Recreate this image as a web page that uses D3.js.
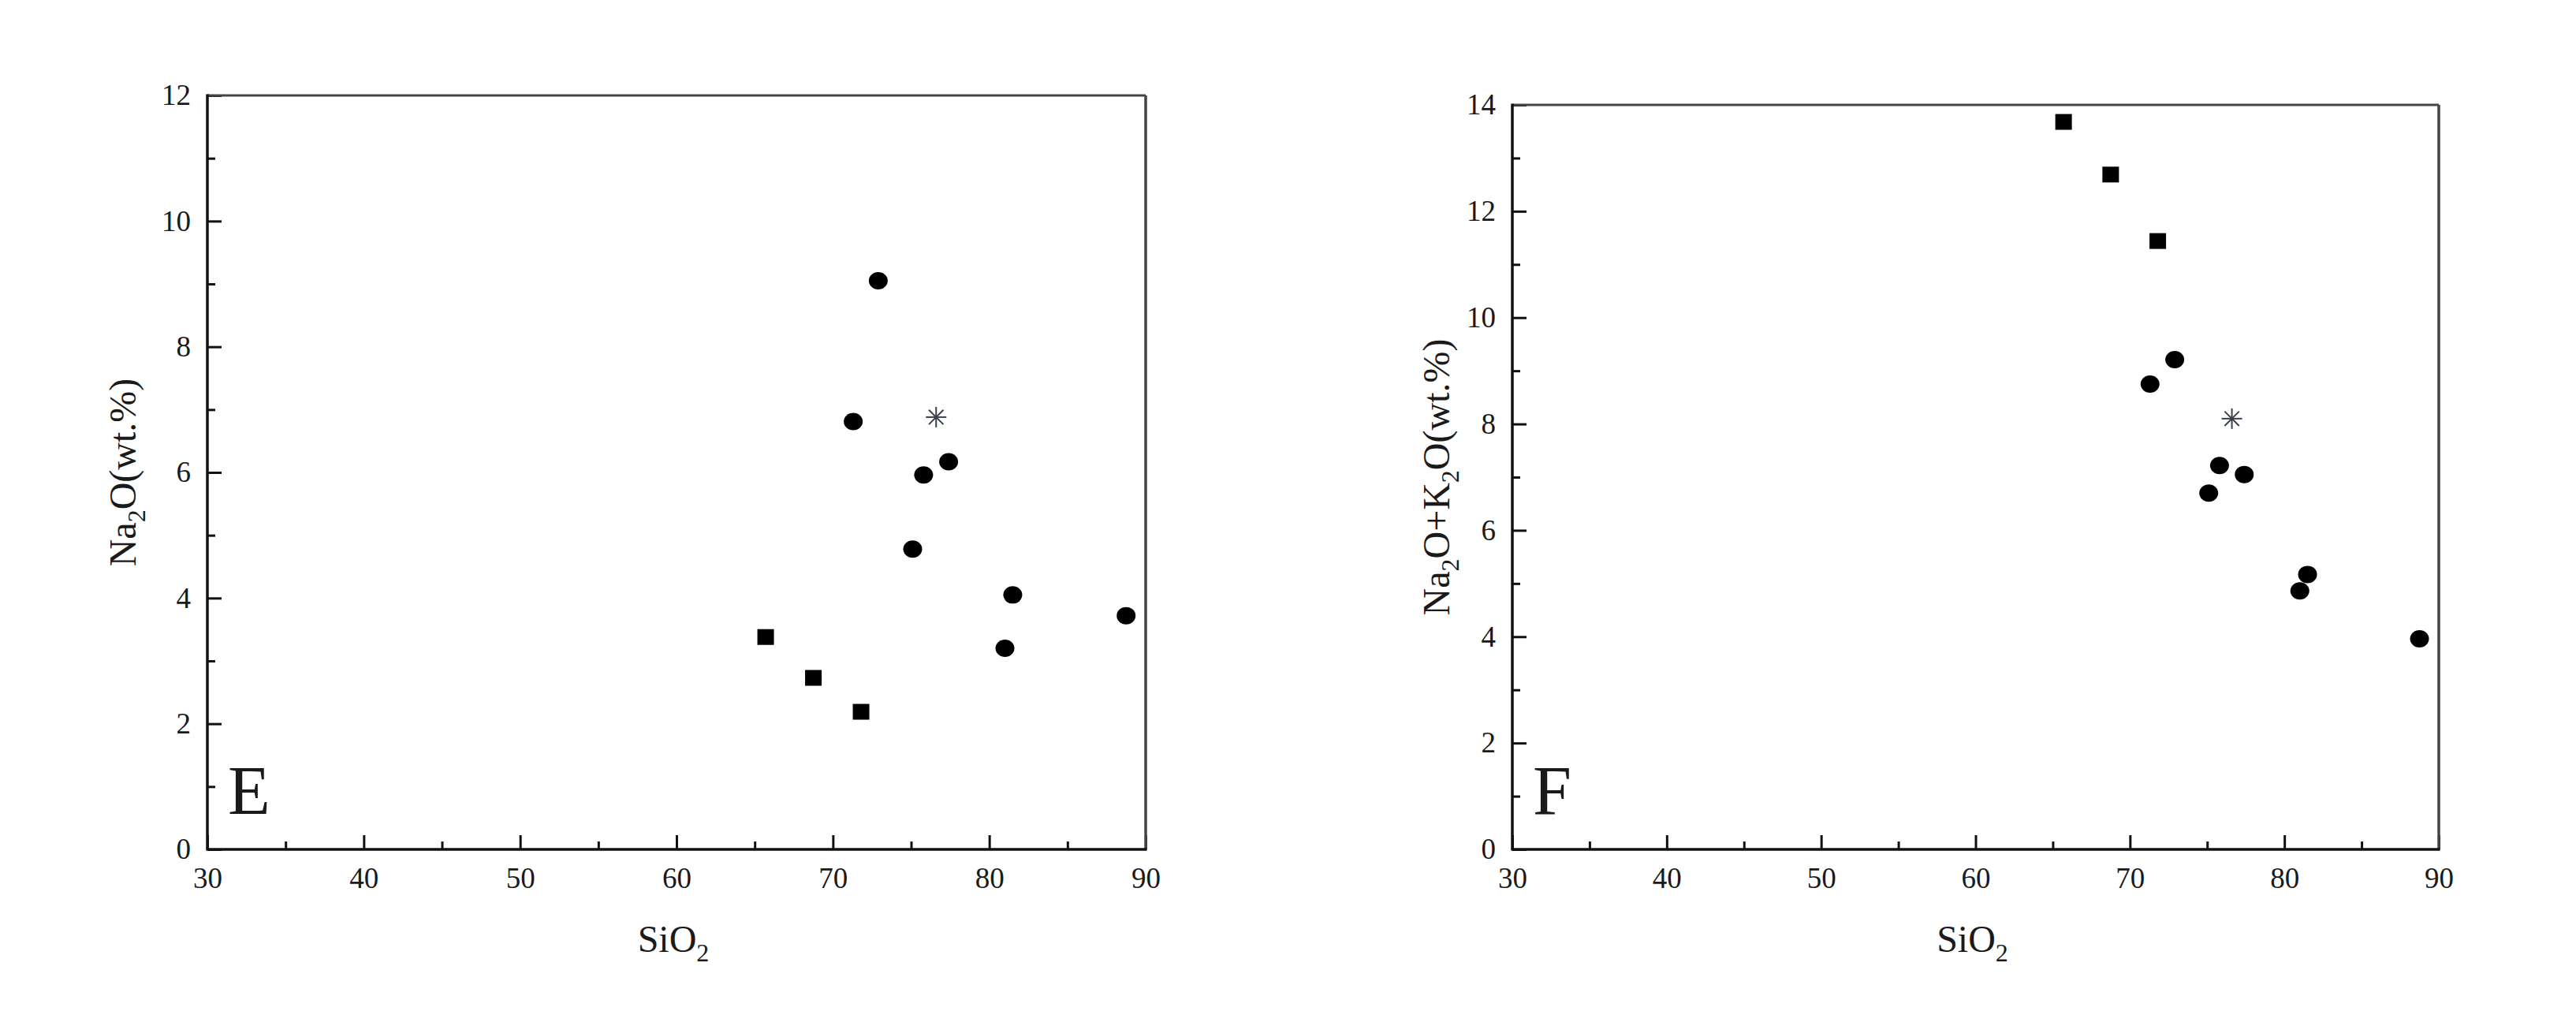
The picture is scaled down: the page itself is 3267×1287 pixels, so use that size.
<html>
<script src='https://d3js.org/d3.v7.min.js'></script>
<style>
  body {margin:0; background:#fff;}
  text {font-family:"Liberation Serif","Times New Roman",serif; fill:#1a1a1a;}
</style>
<body onload='init()'>
<svg width=3267 height=1287></svg>
<script>
// SiO2 (x) shared by both panels
var sio2Square = [65.7, 68.75, 71.8];
var sio2Circle = [72.9, 71.3, 77.4, 75.8, 75.1, 81.5, 88.75, 81.0];
var sio2Star   = [76.6];
// panel E : Na2O
var na2oSquare = [3.38, 2.73, 2.19];
var na2oCircle = [9.05, 6.81, 6.17, 5.96, 4.78, 4.05, 3.72, 3.20];
var na2oStar   = [6.88];
// panel F : Na2O+K2O
var alkSquare = [13.68, 12.69, 11.44];
var alkCircle = [9.21, 8.75, 7.05, 7.22, 6.70, 5.17, 3.96, 4.86];
var alkStar   = [8.10];
// ticks
var xTicks = [30, 40, 50, 60, 70, 80, 90];
var xMinor = [35, 45, 55, 65, 75, 85];
var yTicksE = [0, 2, 4, 6, 8, 10, 12];
var yMinorE = [1, 3, 5, 7, 9, 11];
var yTicksF = [0, 2, 4, 6, 8, 10, 12, 14];
var yMinorF = [1, 3, 5, 7, 9, 11, 13];

function zip(a, b) { return a.map(function(v, i) { return [v, b[i]]; }); }

function panel(svg, o)
{
    var x = d3.scaleLinear().domain([30, 90]).range([o.left, o.right]);
    var y = d3.scaleLinear().domain([0, o.ymax]).range([o.bottom, o.top]);
    var g = svg.append("g");

    // ticks (inward)
    var gx = g.append("g").attr("transform", "translate(0," + o.bottom + ")")
        .call(d3.axisBottom(x).tickValues(xTicks).tickSize(-18).tickPadding(23).tickFormat(d3.format("d")));
    g.append("g").attr("transform", "translate(0," + o.bottom + ")")
        .call(d3.axisBottom(x).tickValues(xMinor).tickSize(-10).tickFormat(""));
    var gy = g.append("g").attr("transform", "translate(" + o.left + ",0)")
        .call(d3.axisLeft(y).tickValues(o.yTicks).tickSize(-18).tickPadding(21).tickFormat(d3.format("d")));
    g.append("g").attr("transform", "translate(" + o.left + ",0)")
        .call(d3.axisLeft(y).tickValues(o.yMinor).tickSize(-10).tickFormat(""));
    g.selectAll(".domain").remove();
    g.selectAll(".tick line").attr("stroke", "#111").attr("stroke-width", 3);
    g.selectAll(".tick text").attr("font-size", 37).attr("font-family", "Liberation Serif").attr("fill", "#1a1a1a");

    // frame
    g.append("line").attr("x1", o.left).attr("x2", o.right).attr("y1", o.top).attr("y2", o.top)
        .attr("stroke", "#444").attr("stroke-width", 3);
    g.append("line").attr("x1", o.right).attr("x2", o.right).attr("y1", o.top).attr("y2", o.bottom)
        .attr("stroke", "#444").attr("stroke-width", 3.5);
    g.append("line").attr("x1", o.left).attr("x2", o.left).attr("y1", o.top - 1.5).attr("y2", o.bottom + 1.5)
        .attr("stroke", "#111").attr("stroke-width", 3.5);
    g.append("line").attr("x1", o.left).attr("x2", o.right + 1.5).attr("y1", o.bottom).attr("y2", o.bottom)
        .attr("stroke", "#111").attr("stroke-width", 3.5);

    // squares
    g.selectAll("rect.sq").data(zip(sio2Square, o.sq)).enter().append("rect")
        .attr("x", function(d) { return x(d[0]) - 10.5; })
        .attr("y", function(d) { return y(d[1]) - 10; })
        .attr("width", 21).attr("height", 20).attr("fill", "#000");
    // circles
    g.selectAll("ellipse.ci").data(zip(sio2Circle, o.ci)).enter().append("ellipse")
        .attr("cx", function(d) { return x(d[0]); })
        .attr("cy", function(d) { return y(d[1]); })
        .attr("rx", 12).attr("ry", 11).attr("fill", "#000");
    // asterisk
    var st = g.selectAll("g.st").data(zip(sio2Star, o.st)).enter().append("g")
        .attr("transform", function(d) { return "translate(" + x(d[0]) + "," + y(d[1]) + ")"; });
    [0, 45, 90, 135].forEach(function(a) {
        var r = 13, rad = a * Math.PI / 180;
        st.append("line")
            .attr("x1", -r * Math.cos(rad)).attr("y1", -r * Math.sin(rad))
            .attr("x2", r * Math.cos(rad)).attr("y2", r * Math.sin(rad))
            .attr("stroke", "#3a3f4a").attr("stroke-width", 2);
    });

    // x title
    var xt = g.append("text").attr("x", (o.left + o.right) / 2 - 4).attr("y", o.bottom + 130)
        .attr("text-anchor", "middle").attr("font-size", 48);
    xt.append("tspan").text("SiO");
    xt.append("tspan").text("2").attr("font-size", 32).attr("dy", 12);

    // y title
    var yt = g.append("text")
        .attr("transform", "translate(" + o.ytx + "," + ((o.top + o.bottom) / 2) + ") rotate(-90)")
        .attr("text-anchor", "middle").attr("font-size", 48);
    o.ytitle.forEach(function(p) {
        var t = yt.append("tspan").text(p[0]);
        if (p[1] == 1) t.attr("font-size", 32).attr("dy", 12);
        if (p[1] == -1) t.attr("dy", -12);
    });

    // panel letter
    g.append("text").attr("x", o.left + 26).attr("y", o.bottom - 45)
        .attr("font-size", 88).text(o.letter);
}

function init()
{
    var svg = d3.select("svg");
    svg.append("rect").attr("width", 3267).attr("height", 1287).attr("fill", "#fff");

    panel(svg, {left: 263, right: 1453, top: 121, bottom: 1077, ymax: 12,
        yTicks: yTicksE, yMinor: yMinorE,
        sq: na2oSquare, ci: na2oCircle, st: na2oStar,
        ytx: 172, letter: "E",
        ytitle: [["Na", 0], ["2", 1], ["O(wt.%)", -1]]});

    panel(svg, {left: 1918, right: 3093, top: 133, bottom: 1077, ymax: 14,
        yTicks: yTicksF, yMinor: yMinorF,
        sq: alkSquare, ci: alkCircle, st: alkStar,
        ytx: 1838, letter: "F",
        ytitle: [["Na", 0], ["2", 1], ["O+K", -1], ["2", 1], ["O(wt.%)", -1]]});
}
</script>
</body>
</html>
